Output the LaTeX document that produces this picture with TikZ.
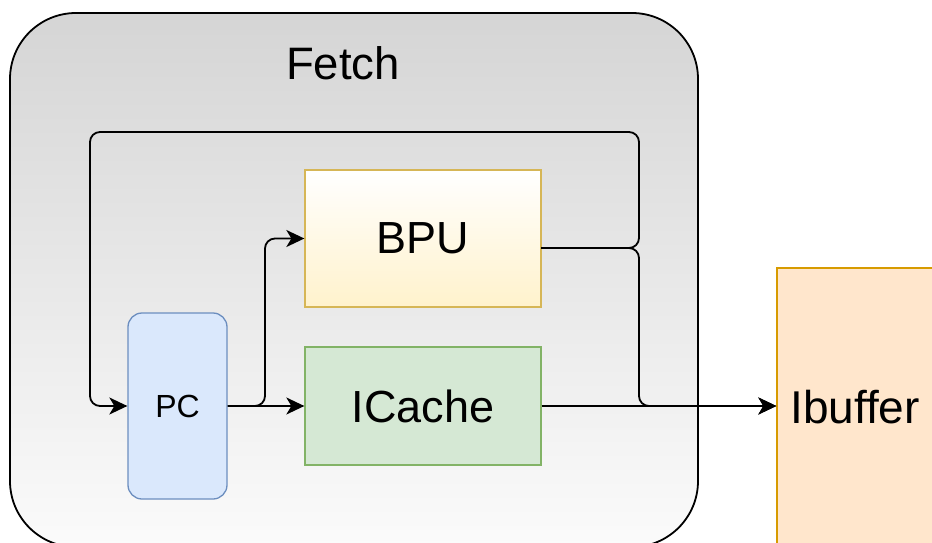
\documentclass[tikz,border=0pt]{standalone}
\usepackage{fontspec}
\setmainfont{Liberation Sans}
\usetikzlibrary{arrows.meta,calc}

\definecolor{pcfill}{HTML}{DAE8FC}
\definecolor{pcline}{HTML}{6C8EBF}
\definecolor{bpufill}{HTML}{FFF2CC}
\definecolor{bpuline}{HTML}{D6B656}
\definecolor{icfill}{HTML}{D5E8D4}
\definecolor{icline}{HTML}{82B366}
\definecolor{ibfill}{HTML}{FFE6CC}
\definecolor{ibline}{HTML}{D79B00}
\definecolor{stagetop}{HTML}{D5D5D5}
\definecolor{stagebot}{HTML}{FBFBFB}

\tikzset{
  unit/.style={draw, line width=1.3pt, inner sep=0pt,
    font=\fontsize{45}{54}\selectfont},
  link/.style={line width=1.8pt, rounded corners=10pt,
    -{Stealth[length=18pt,width=17pt,inset=5pt]}},
}

\begin{document}
\begin{tikzpicture}[x=1pt,y=-1pt]
  \useasboundingbox (0,0) rectangle (932,543);
  \clip (0,0) rectangle (932,543);

  % Fetch stage container
  \node[draw, line width=1.8pt, rounded corners=66pt,
        top color=stagetop, bottom color=stagebot,
        minimum width=688pt, minimum height=534pt, inner sep=0pt]
        (fetch) at (354,280) {};
  \node[font=\fontsize{45.5}{54}\selectfont] (fetchlbl) at (343,63) {Fetch};

  % Units
  \node[unit, rounded corners=14pt, fill=pcfill, draw=pcline,
        minimum width=99pt, minimum height=186pt,
        font=\fontsize{32}{38}\selectfont] (pc) at (177.5,406) {PC};
  \node[unit, draw=bpuline, top color=white, bottom color=bpufill,
        minimum width=236pt, minimum height=137pt] (bpu) at (423,238.5) {BPU};
  \node[unit, fill=icfill, draw=icline,
        minimum width=236pt, minimum height=118pt] (ic) at (423,406) {ICache};
  \node[unit, fill=ibfill, draw=ibline,
        minimum width=156pt, minimum height=290pt] (ib) at (855,413) {};
  \node[font=\fontsize{46}{54}\selectfont] (iblbl) at (855,407) {Ibuffer};

  \coordinate (ibin) at (ic.east -| ib.west);
  \coordinate (bpuout) at (541,248);

  % Connectors
  \draw[link] (pc.east) -- (ic.west);
  \draw[link] (pc.east) -- (265,406) |- (bpu.west);
  \draw[link] (ic.east) -- (ibin);
  \draw[link] (bpuout) -- (639,248) |- (ibin);
  \draw[link] (bpuout) -- (639,248) -- (639,132) -- (90,132) |- (pc.west);
\end{tikzpicture}
\end{document}
